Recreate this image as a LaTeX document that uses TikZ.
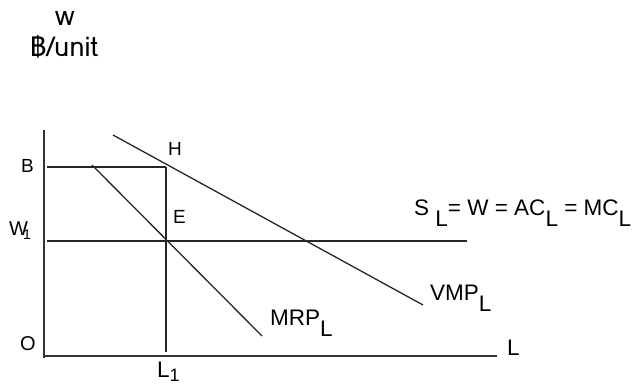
\documentclass[tikz,border=0pt]{standalone}
\usepackage{fontspec}
\setmainfont{Liberation Sans}
\newfontfamily\thaifont[Script=Thai]{Loma}
\newcommand{\dnsub}[1]{\raisebox{-0.5em}{#1}}
\begin{document}
\begin{tikzpicture}[x=1pt,y=-1pt,
  axisline/.style={line width=2pt,black!80},
  guide/.style={line width=1.8pt,black!85},
  curve/.style={line width=1.3pt,black!85},
  lbl/.style={inner sep=0pt,anchor=base west,font=\fontsize{22.5}{26}\selectfont},
  slbl/.style={inner sep=0pt,anchor=base west,font=\fontsize{19}{21}\selectfont}]
\useasboundingbox (0,0) rectangle (635,385);
% coordinates
\coordinate (ytop) at (44,130);
\coordinate (ybot) at (44,358);
\coordinate (xst) at (44,356);
\coordinate (xend) at (497,356);
\coordinate (Bst) at (47,167);
\coordinate (H) at (166,167);
\coordinate (L1pt) at (166,352);
\coordinate (E) at (166,241);
\coordinate (Wst) at (47,241);
\coordinate (Wend) at (467,241);
\coordinate (mrpA) at (92,165);
\coordinate (mrpB) at (262,336);
\coordinate (vmpA) at (113,135);
\coordinate (vmpB) at (423,305);
% axes
\draw[axisline] (ytop) -- (ybot);
\draw[axisline] (xst) -- (xend);
% guides
\draw[guide] (Bst) -- (H);
\draw[guide] (H) -- (L1pt);
\draw[guide] (Wst) -- (Wend);
% curves
\draw[curve] (mrpA) -- (mrpB);
\draw[curve] (vmpA) -- (vmpB);
% labels
\node[inner sep=0pt,anchor=base west,font=\thaifont\fontsize{27}{29}\selectfont] (wlab) at (55,26) {w};
\node[inner sep=0pt,anchor=base west,font=\thaifont\fontsize{27}{29}\selectfont] (unitlab) at (30,57) {฿/unit};
\node[slbl] (Blab) at (21,173) {B};
\node[slbl] (Hlab) at (168,156) {H};
\node[slbl] (Elab) at (173,223) {E};
\node[slbl,font=\fontsize{20}{22}\selectfont] (Olab) at (20,350) {O};
\node[slbl,font=\fontsize{20}{22}\selectfont] (Wlab) at (9,235) {W\kern-5pt\raisebox{-0.25em}{\fontsize{14}{16}\selectfont 1}};
\node[lbl] (L1lab) at (157,377) {L\raisebox{-0.2em}{\fontsize{18}{20}\selectfont 1}};
\node[lbl] (Llab) at (507,355) {L};
\node[lbl] (Slab) at (414,215) {S \dnsub{L}= W = AC\dnsub{L} = MC\dnsub{L}};
\node[lbl] (VMPlab) at (430,300) {VMP\dnsub{L}};
\node[lbl] (MRPlab) at (270,325) {MRP\dnsub{L}};
\end{tikzpicture}
\end{document}
